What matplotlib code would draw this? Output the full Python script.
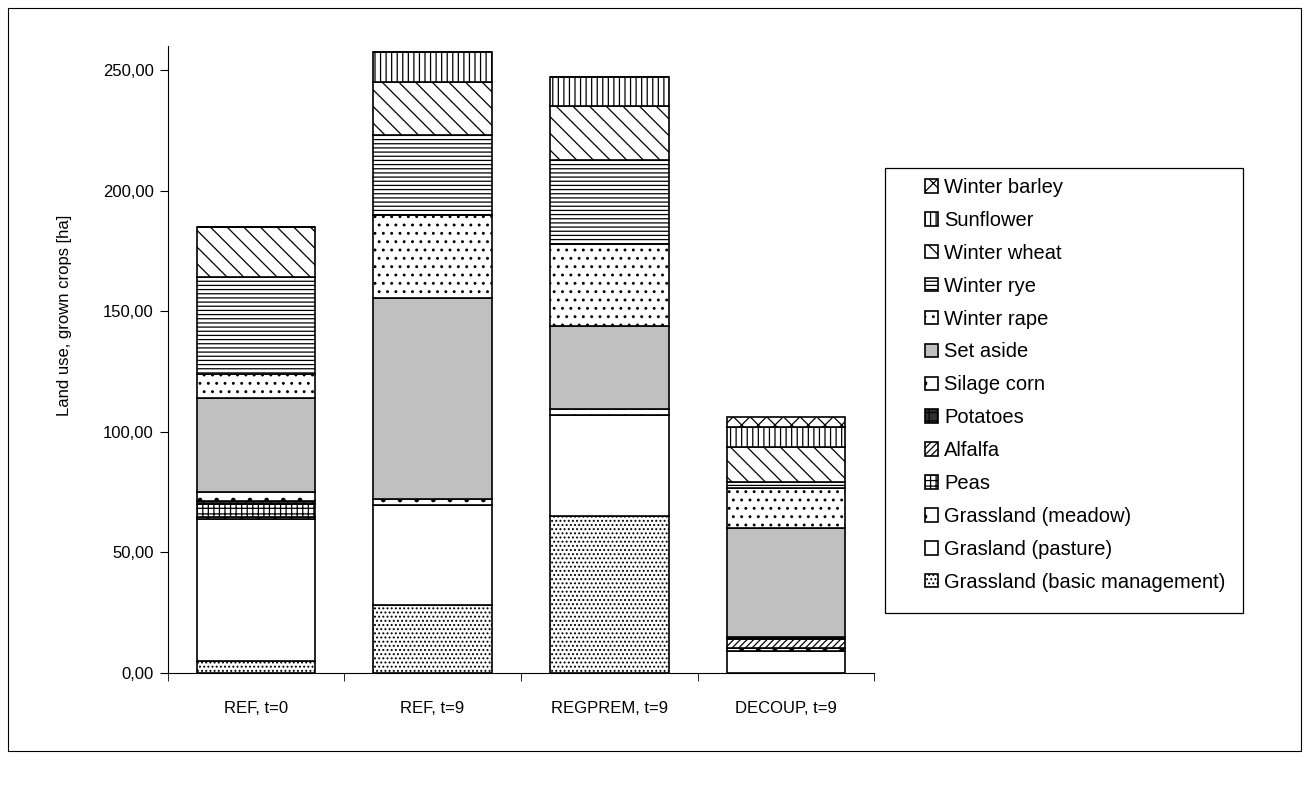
import matplotlib.pyplot as plt
from matplotlib.patches import Rectangle
from matplotlib.ticker import FuncFormatter
import numpy as np

plt.rcParams['font.family'] = ['Liberation Sans', 'DejaVu Sans']
plt.rcParams['hatch.linewidth'] = 0.9

scenarios = ["REF, t=0", "REF, t=9", "REGPREM, t=9", "DECOUP, t=9"]

# land use per crop [ha], bottom to top of the stack
crops = [
    "Grassland (basic management)",
    "Grasland (pasture)",
    "Grassland (meadow)",
    "Peas",
    "Alfalfa",
    "Potatoes",
    "Silage corn",
    "Set aside",
    "Winter rape",
    "Winter rye",
    "Winter wheat",
    "Sunflower",
    "Winter barley",
]
basic_mgmt = [5.0, 28.0, 65.0, 0.0]
pasture = [59.0, 41.5, 42.0, 9.0]
meadow = [0.5, 0.0, 0.0, 1.5]
peas = [5.5, 0.0, 0.0, 0.0]
alfalfa = [0.0, 0.0, 0.0, 3.5]
potatoes = [1.5, 0.0, 0.0, 1.0]
silage_corn = [3.5, 2.5, 2.5, 0.0]
set_aside = [39.0, 83.5, 34.5, 45.0]
winter_rape = [10.0, 34.5, 34.0, 16.5]
winter_rye = [40.0, 33.0, 34.5, 2.5]
winter_wheat = [21.0, 22.0, 22.5, 14.5]
sunflower = [0.0, 12.5, 12.0, 8.5]
winter_barley = [0.0, 0.0, 0.0, 4.0]

series = [basic_mgmt, pasture, meadow, peas, alfalfa, potatoes, silage_corn,
          set_aside, winter_rape, winter_rye, winter_wheat, sunflower, winter_barley]

# (facecolor, hatch) per crop
styles = [
    ("white", "...."),
    ("white", ""),
    ("white", "."),
    ("white", "+++"),
    ("white", "/////"),
    ("#303030", "++"),
    ("white", "."),
    ("#c0c0c0", ""),
    ("white", ".."),
    ("white", "----"),
    ("white", "\\\\"),
    ("white", "|||"),
    ("white", "xx"),
]

fig = plt.figure(figsize=(13.09, 7.89), dpi=100)
ax = fig.add_axes([0.128, 0.147, 0.54, 0.795])

x = np.arange(len(scenarios))
bottom = np.zeros(len(scenarios))
handles = []
for name, vals, (fc, hatch) in zip(crops, series, styles):
    vals = np.array(vals)
    b = ax.bar(x, vals, 0.67, bottom=bottom, color=fc, edgecolor="black",
               hatch=hatch, linewidth=1.2, label=name)
    handles.append(b)
    bottom += vals

ax.set_xlim(-0.5, 3.5)
ax.set_ylim(0, 260)
ax.set_yticks(np.arange(0, 251, 50))
ax.yaxis.set_major_formatter(FuncFormatter(lambda v, p: f"{v:.2f}".replace(".", ",")))
ax.set_xticks(x)
ax.set_xticklabels(scenarios)
ax.set_xticks(np.arange(-0.5, 3.6, 1), minor=True)
ax.tick_params(axis="x", which="major", length=0, pad=20, labelsize=12)
ax.tick_params(axis="x", which="minor", length=6, direction="out")
ax.tick_params(axis="y", length=6, direction="out", labelsize=12, pad=4)
ax.spines["top"].set_visible(False)
ax.spines["right"].set_visible(False)
ax.set_ylabel("Land use, grown crops [ha]", fontsize=12)
ax.yaxis.set_label_coords(-0.135, 0.57)

fig.legend(handles[::-1], crops[::-1], loc="upper left",
           bbox_to_anchor=(925 / 1309, 1 - 178 / 789),
           bbox_transform=fig.transFigure, frameon=False,
           fontsize=14.5, handlelength=0.65, handleheight=0.65,
           handletextpad=0.3, labelspacing=0.69, borderpad=0, borderaxespad=0)

# legend box and outer chart border
fig.patches.append(Rectangle((885 / 1309, 1 - 613 / 789), 358 / 1309, 445 / 789,
                             transform=fig.transFigure, fill=False,
                             edgecolor="black", linewidth=0.9))
fig.patches.append(Rectangle((0.006, 0.048), 0.988, 0.942, transform=fig.transFigure,
                             fill=False, edgecolor="black", linewidth=0.8))

fig.savefig("out.png", dpi=100)
